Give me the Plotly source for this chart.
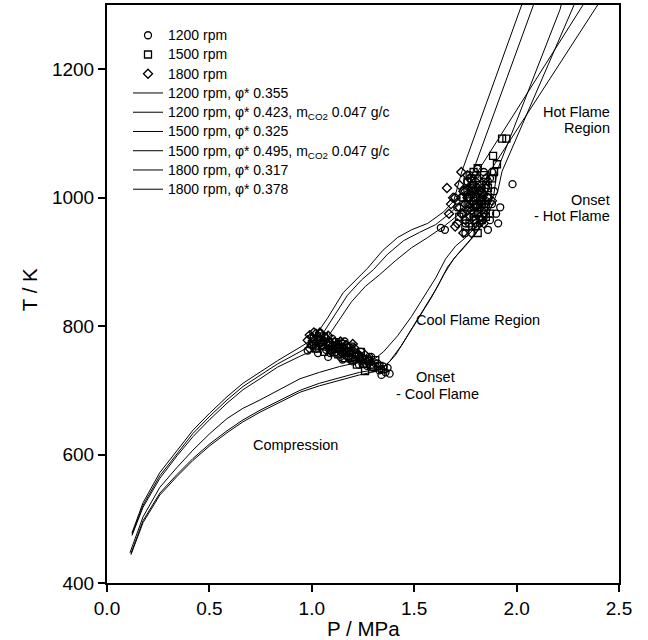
import plotly.graph_objects as go

# ---------------- data ----------------
# model curves (P / MPa, T / K)
c1_P = [0.122,0.176,0.258,0.342,0.420,0.503,0.586,0.664,0.747,0.832,0.942,0.988,1.018,1.076,1.153,1.213,1.272,1.347,1.419,1.487,1.566,1.644,1.693,1.733,2.017,2.045]
c1_T = [478,525,572,607,638,665,690,711,728,746,767,776,785,812,852,872,890,918,938,950,960,978,995,1041,1293,1318]

c2_P = [0.122,0.176,0.258,0.342,0.420,0.503,0.586,0.664,0.747,0.832,0.942,1.008,1.047,1.106,1.174,1.243,1.301,1.370,1.448,1.526,1.605,1.683,1.752,1.787,2.075,2.105]
c2_T = [476,521,567,602,633,660,685,706,723,741,760,772,785,815,848,872,888,912,933,946,958,978,1000,1041,1293,1320]

c3_P = [0.122,0.176,0.258,0.342,0.420,0.503,0.586,0.664,0.747,0.832,0.942,1.027,1.067,1.125,1.194,1.262,1.331,1.409,1.487,1.566,1.644,1.722,1.781,1.811,2.310,2.340]
c3_T = [474,518,563,598,628,655,680,701,718,736,753,765,778,805,838,862,880,902,922,938,955,975,995,1041,1293,1308]

c4_P = [0.112,0.176,0.258,0.342,0.420,0.503,0.586,0.664,0.747,0.851,0.942,1.037,1.135,1.233,1.311,1.350,1.419,1.487,1.546,1.605,1.654,1.703,1.752,1.801,1.840,1.860,1.870,2.383,2.410]
c4_T = [447,503,549,580,607,633,656,672,685,702,718,728,737,744,750,760,785,815,845,875,905,925,938,955,985,1015,1041,1293,1307]

c5_P = [0.117,0.176,0.258,0.342,0.420,0.503,0.586,0.664,0.747,0.851,0.942,1.037,1.135,1.233,1.321,1.360,1.409,1.468,1.526,1.585,1.644,1.693,1.742,1.791,1.840,1.889,1.904,2.212,2.232]
c5_T = [444,494,537,566,591,614,634,651,666,683,697,707,716,724,730,738,755,785,815,845,880,905,922,940,965,1005,1041,1293,1318]

c6_P = [0.117,0.176,0.258,0.342,0.420,0.503,0.586,0.664,0.747,0.851,0.942,1.037,1.135,1.233,1.341,1.380,1.438,1.497,1.556,1.615,1.663,1.712,1.761,1.810,1.859,1.908,1.929,2.271,2.294]
c6_T = [446,497,540,569,594,617,637,654,669,686,700,711,720,728,734,745,770,800,830,862,892,912,930,948,972,1010,1041,1293,1310]

# experimental points: cool-flame onset cluster, then hot-flame onset cluster
e1200_P = [0.98,1.01,1.03,1.05,1.07,1.08,1.10,1.12,1.13,1.15,1.17,1.18,1.20,1.22,1.23,1.25,1.27,1.28,1.30,1.32,1.33,1.34,1.35,1.36,1.10,1.16,1.24,1.29,1.37,1.38,
           1.02,1.04,1.06,1.09,1.11,1.14,1.16,1.19,1.21,1.24,1.26,1.29,1.31,1.34,1.12,1.20,1.28,1.08,1.15,1.23,
           1.74,1.76,1.78,1.80,1.82,1.84,1.86,1.75,1.77,1.79,1.81,1.83,1.85,1.87,1.73,1.76,1.80,1.82,1.84,1.88,1.90,1.92,1.98,1.63,1.65,1.78,1.81,1.75,1.83,1.89,1.71,1.86,1.79,1.77,1.91,
           1.78,1.80,1.82,1.84,1.86,1.79,1.81,1.83,1.85,1.77,1.87,1.80,1.82,1.84,1.76,1.88]
e1200_T = [762,770,758,775,763,752,768,757,772,748,762,753,745,758,740,750,738,746,735,742,731,724,737,728,780,776,760,752,735,726,
           765,773,768,758,764,752,760,750,755,745,748,740,742,732,770,762,752,772,768,755,
           975,990,1005,1010,985,995,1000,960,970,1020,975,1015,980,965,1000,1025,990,960,1025,990,975,985,1021,953,950,955,1030,945,1008,1010,985,950,970,1000,960,
           1015,1035,1000,1040,1025,985,1045,965,995,1035,1030,955,1012,975,1005,1040]

e1500_P = [1.00,1.02,1.04,1.06,1.09,1.11,1.14,1.16,1.18,1.20,1.23,1.25,1.28,1.30,1.06,1.12,1.18,1.22,1.33,1.26,
           1.01,1.05,1.08,1.10,1.13,1.15,1.17,1.19,1.21,1.24,1.27,1.29,1.31,1.35,
           1.74,1.77,1.79,1.81,1.83,1.85,1.76,1.80,1.82,1.84,1.78,1.86,1.72,1.75,1.89,1.81,1.81,1.885,1.904,1.929,1.88,1.79,1.83,1.77,1.85,1.95,
           1.76,1.78,1.80,1.82,1.84,1.86,1.79,1.81,1.83,1.85,1.87,1.77]
e1500_T = [772,765,778,760,770,760,765,750,758,748,752,742,745,736,784,775,766,740,738,730,
           780,770,775,765,756,772,760,768,752,760,748,739,747,733,
           1000,985,995,978,1005,990,1012,965,1020,1035,1030,1015,970,955,1040,945,1046,1065,1052,1092,1030,1040,990,960,970,1092,
           1025,1010,1000,1008,985,1000,975,990,965,1020,975,990]

e1800_P = [0.98,0.99,1.00,1.01,1.03,1.05,1.07,1.09,1.11,1.13,1.15,1.17,1.19,1.21,1.02,1.08,1.14,1.26,0.99,1.04,
           1.00,1.02,1.04,1.06,1.08,1.10,1.12,1.16,1.18,1.20,1.22,1.24,
           1.66,1.68,1.70,1.72,1.74,1.76,1.78,1.80,1.82,1.84,1.71,1.73,1.75,1.77,1.79,1.81,1.83,1.69,1.72,1.74,1.86,1.88,1.67,1.70,1.76,1.80,1.82,1.78,1.75,1.85,
           1.73,1.75,1.77,1.79,1.81,1.83,1.85,1.78,1.80,1.82,1.76,1.84]
e1800_T = [778,786,770,790,782,770,780,762,775,766,758,770,760,765,788,785,776,755,765,790,
           783,775,788,776,772,770,766,764,750,772,755,748,
           1015,990,1000,985,1010,1000,1020,985,995,1005,960,975,990,1030,965,1000,980,1000,1020,945,1000,995,975,955,1035,1025,1010,945,965,1015,
           1040,1010,1000,1012,1015,995,1030,980,960,970,980,960]

point_names = ["1200 rpm", "1500 rpm", "1800 rpm"]
curve_names = ["1200 rpm, \u03c6* 0.355",
               "1200 rpm, \u03c6* 0.423, m<sub>CO2</sub> 0.047 g/c",
               "1500 rpm, \u03c6* 0.325",
               "1500 rpm, \u03c6* 0.495, m<sub>CO2</sub> 0.047 g/c",
               "1800 rpm, \u03c6* 0.317",
               "1800 rpm, \u03c6* 0.378"]

x_ticks = [0.0, 0.5, 1.0, 1.5, 2.0, 2.5]
y_ticks = [400, 600, 800, 1000, 1200]

# ---------------- figure ----------------
FONT = "Liberation Sans, Arial, sans-serif"
fig = go.Figure()

pts = [(e1200_P, e1200_T, "circle-open"), (e1500_P, e1500_T, "square-open"), (e1800_P, e1800_T, "diamond-open")]
for (px, py, sym), nm in zip(pts, point_names):
    fig.add_trace(go.Scatter(x=px, y=py, mode="markers",
                             name='<span style="font-size:14px">%s</span>' % nm,
                             marker=dict(symbol=sym, size=7, color="black", line=dict(width=1.3, color="black"))))

curves = [(c1_P, c1_T), (c2_P, c2_T), (c3_P, c3_T), (c4_P, c4_T), (c5_P, c5_T), (c6_P, c6_T)]
for (cx, cy), nm in zip(curves, curve_names):
    fig.add_trace(go.Scatter(x=cx, y=cy, mode="lines",
                             name='<span style="font-size:14px">%s</span>' % nm,
                             line=dict(color="black", width=1)))

ann = [
    dict(x=2.466, y=1133, text="Hot Flame", xanchor="right"),
    dict(x=2.466, y=1108, text="Region", xanchor="right"),
    dict(x=2.466, y=996, text="Onset", xanchor="right"),
    dict(x=2.466, y=971, text="- Hot Flame", xanchor="right"),
    dict(x=1.812, y=809, text="Cool Flame Region", xanchor="center"),
    dict(x=1.602, y=721, text="Onset", xanchor="center"),
    dict(x=1.616, y=694, text="- Cool Flame", xanchor="center"),
    dict(x=0.918, y=615, text="Compression", xanchor="center"),
]
for a in ann:
    fig.add_annotation(xref="x", yref="y", showarrow=False, yanchor="middle",
                       font=dict(family=FONT, size=14.5, color="black"), **a)

# axis titles
fig.add_annotation(xref="paper", yref="paper", x=0.5, y=-0.078, text="P / MPa", showarrow=False,
                   xanchor="center", yanchor="middle", font=dict(family=FONT, size=20.5, color="black"))
fig.add_annotation(xref="paper", yref="paper", x=-0.150, y=0.507, text="T / K", showarrow=False, textangle=-90,
                   xanchor="center", yanchor="middle", font=dict(family=FONT, size=20.5, color="black"))

axis_common = dict(showgrid=False, zeroline=False, showline=True, linecolor="black", linewidth=2,
                   mirror=True, ticks="outside", ticklen=7, tickwidth=1.5, tickcolor="black",
                   automargin=False, tickfont=dict(family=FONT, size=19, color="black"))

fig.update_layout(
    width=648, height=640,
    margin=dict(l=107, r=29, t=5, b=57),
    paper_bgcolor="white", plot_bgcolor="white",
    showlegend=True,
    legend=dict(x=0.041, y=0.973, xanchor="left", yanchor="top", bgcolor="rgba(0,0,0,0)",
                font=dict(family=FONT, size=12.5, color="black"), tracegroupgap=0, itemwidth=30),
    xaxis=dict(range=[0, 2.5], tickvals=x_ticks, ticktext=["%.1f" % v for v in x_ticks], **axis_common),
    yaxis=dict(range=[400, 1300], tickvals=y_ticks, **axis_common),
)

fig.write_html("out.html")
